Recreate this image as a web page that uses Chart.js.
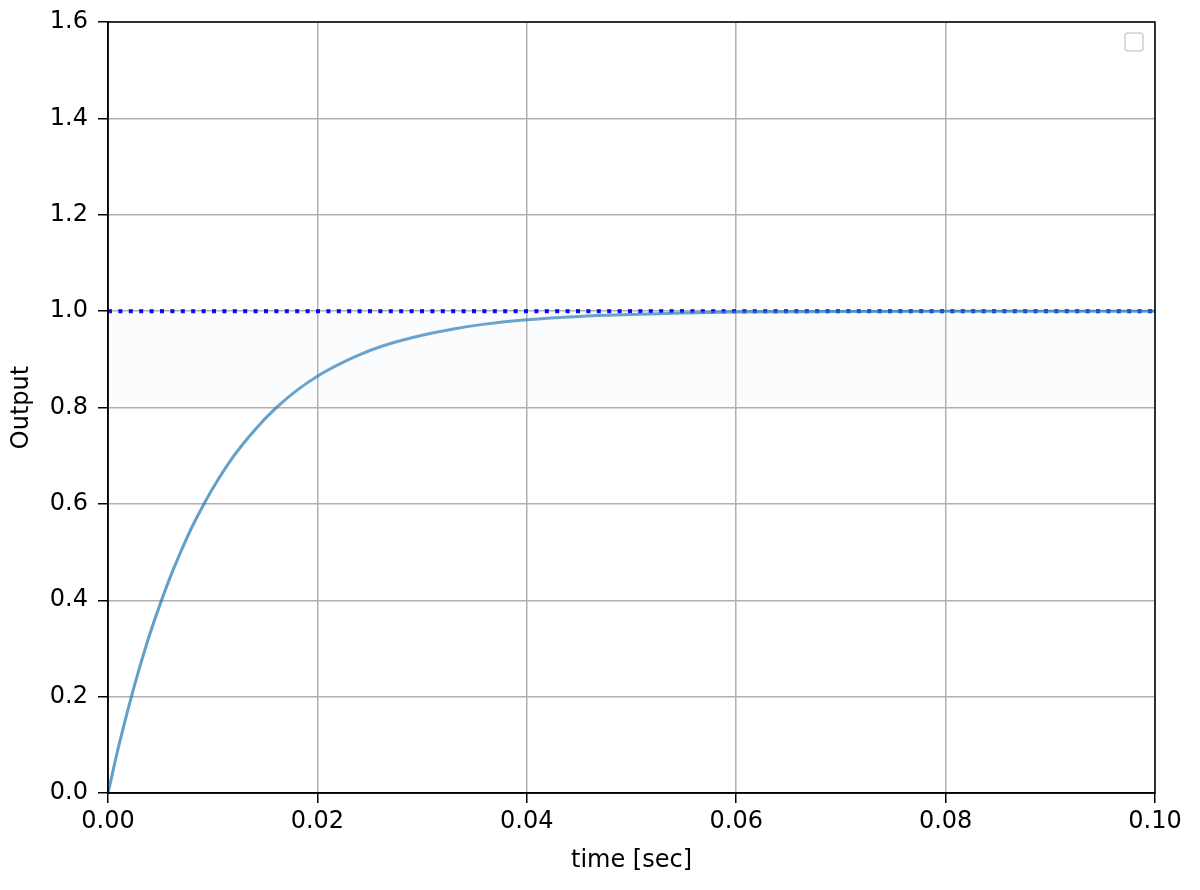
<!DOCTYPE html>
<html>
<head>
<meta charset="utf-8">
<script src="https://cdn.jsdelivr.net/npm/chart.js@4/dist/chart.umd.min.js"></script>
<style>
  html, body { margin: 0; padding: 0; background: #fff; }
  canvas { display: block; }
</style>
</head>
<body>
<canvas id="chart" width="1200" height="890"></canvas>
<script>
// 時間 [sec] と応答値
const timeSec = [0, 0.001, 0.002, 0.003, 0.004, 0.005, 0.006, 0.007, 0.008, 0.009,
  0.010, 0.012, 0.014, 0.016, 0.018, 0.020, 0.022, 0.024, 0.026, 0.028,
  0.030, 0.033, 0.036, 0.040, 0.045, 0.050, 0.055, 0.060, 0.070, 0.080, 0.090, 0.100];
const outputVals = [0, 0.095, 0.181, 0.259, 0.330, 0.393, 0.451, 0.503, 0.551, 0.593,
  0.632, 0.699, 0.753, 0.798, 0.835, 0.865, 0.889, 0.909, 0.926, 0.939,
  0.950, 0.963, 0.973, 0.982, 0.989, 0.993, 0.996, 0.998, 0.999, 1.0, 1.0, 1.0];

// 目標値（点線）
const refX = [0, 0.1];
const refY = [1.0, 1.0];

// 薄い帯 0.8〜1.0
const bandX = [0, 0.1];
const bandLow = [0.8, 0.8];
const bandHigh = [1.0, 1.0];

const xTicks = [0, 0.02, 0.04, 0.06, 0.08, 0.1];
const yTicks = [0, 0.2, 0.4, 0.6, 0.8, 1.0, 1.2, 1.4, 1.6];

const toPts = (xs, ys) => xs.map((x, i) => ({ x: x, y: ys[i] }));

// 枠線と空の凡例
const framePlugin = {
  id: "frame",
  afterDraw(chart) {
    const { ctx, chartArea: a } = chart;
    ctx.save();
    ctx.strokeStyle = "#000";
    ctx.lineWidth = 1.5;
    ctx.strokeRect(a.left, a.top, a.right - a.left, a.bottom - a.top);
    // 空の凡例ボックス
    const w = 18, x = a.right - 30, y = a.top + 11;
    ctx.beginPath();
    ctx.roundRect(x, y, w, w, 3);
    ctx.fillStyle = "rgba(255,255,255,0.8)";
    ctx.fill();
    ctx.strokeStyle = "#d0d0d0";
    ctx.lineWidth = 1.5;
    ctx.stroke();
    ctx.restore();
  }
};

const font = { family: "DejaVu Sans", size: 24 };

new Chart(document.getElementById("chart"), {
  type: "line",
  data: {
    datasets: [
      {
        data: toPts(bandX, bandLow),
        borderWidth: 0,
        pointRadius: 0,
        fill: false
      },
      {
        data: toPts(bandX, bandHigh),
        borderWidth: 0,
        pointRadius: 0,
        backgroundColor: "rgba(200,220,240,0.08)",
        fill: "-1"
      },
      {
        data: toPts(timeSec, outputVals),
        borderColor: "rgba(31,119,180,0.7)",
        borderWidth: 3,
        pointRadius: 0,
        cubicInterpolationMode: "monotone",
        fill: false
      },
      {
        data: toPts(refX, refY),
        borderColor: "#0000ff",
        borderWidth: 4,
        borderDash: [4, 6.4],
        borderCapStyle: "butt",
        pointRadius: 0,
        fill: false
      }
    ]
  },
  plugins: [framePlugin],
  options: {
    responsive: false,
    animation: false,
    devicePixelRatio: 1,
    layout: { padding: { top: 22, right: 45, left: 0, bottom: 0 } },
    plugins: {
      legend: { display: false },
      tooltip: { enabled: false }
    },
    scales: {
      x: {
        type: "linear",
        min: 0,
        max: 0.1,
        afterBuildTicks: s => { s.ticks = xTicks.map(v => ({ value: v })); },
        afterFit: s => { s.height = 97; },
        ticks: {
          color: "#000",
          font: font,
          padding: 4,
          maxRotation: 0,
          callback: v => Number(v).toFixed(2)
        },
        grid: {
          color: "#b0b0b0",
          lineWidth: 1.5,
          tickColor: "#000",
          tickLength: 10,
          tickWidth: 1.5
        },
        border: { color: "#000", width: 1.5 },
        title: {
          display: true,
          text: "time [sec]",
          color: "#000",
          font: font,
          padding: { top: 2, bottom: 15 }
        }
      },
      y: {
        type: "linear",
        min: 0,
        max: 1.6,
        afterBuildTicks: s => { s.ticks = yTicks.map(v => ({ value: v })); },
        afterFit: s => { s.width = 108; },
        ticks: {
          color: "#000",
          font: { family: "DejaVu Sans", size: 24, lineHeight: 1 },
          padding: 10,
          callback: v => Number(v).toFixed(1)
        },
        grid: {
          color: "#b0b0b0",
          lineWidth: 1.5,
          tickColor: "#000",
          tickLength: 10,
          tickWidth: 1.5
        },
        border: { color: "#000", width: 1.5 },
        title: {
          display: true,
          text: "Output",
          color: "#000",
          font: font,
          padding: { top: 7, bottom: 7 }
        }
      }
    }
  }
});
</script>
</body>
</html>
